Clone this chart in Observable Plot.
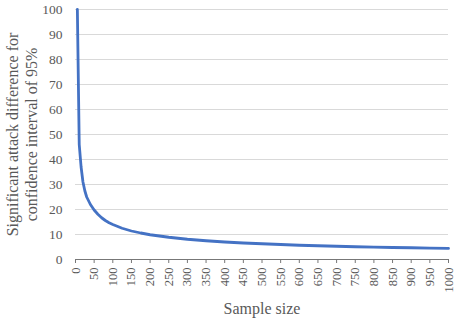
<!DOCTYPE html>
<html>
<head>
<meta charset="utf-8">
<script src="https://cdn.jsdelivr.net/npm/d3@7"></script>
<script src="https://cdn.jsdelivr.net/npm/@observablehq/plot@0.6"></script>
<style>
  html, body { margin: 0; padding: 0; background: #fff; }
  #chart svg { display: block; }
</style>
</head>
<body>
<div id="chart"></div>
<script>
// Sample size (x) and significant attack difference (y)
const sampleSize = [5, 10, 15, 20, 25, 30, 40, 50, 60, 70, 80, 90, 100, 125, 150, 175, 200, 250, 300, 350, 400, 450, 500, 550, 600, 650, 700, 750, 800, 850, 900, 950, 1000];
const attackDiff = [100, 46, 37, 31, 27.5, 25, 22, 19.8, 18.1, 16.7, 15.6, 14.7, 14.0, 12.5, 11.4, 10.6, 9.9, 8.9, 8.1, 7.5, 7.0, 6.6, 6.3, 6.0, 5.7, 5.5, 5.3, 5.1, 4.95, 4.8, 4.7, 4.55, 4.43];
const xTicks = d3.range(0, 1001, 50);
const yTicks = d3.range(0, 101, 10);
const xTitle = "Sample size";
const yTitle = "Significant attack difference for\nconfidence interval of 95%";

const data = sampleSize.map((n, i) => ({n, v: attackDiff[i]}));
const gray = "#595959";
const serif = "'Liberation Serif', 'Times New Roman', Times, Tinos, 'DejaVu Serif', serif";

const chart = Plot.plot({
  width: 457,
  height: 323,
  marginLeft: 75,
  marginRight: 9,
  marginTop: 9,
  marginBottom: 64,
  style: {background: "#fff", color: gray, fontFamily: serif},
  x: {domain: [0, 1000]},
  y: {domain: [0, 100]},
  marks: [
    Plot.gridY(yTicks, {stroke: "#d9d9d9", strokeOpacity: 1, strokeWidth: 1}),
    Plot.axisY(yTicks, {tickSize: 0, tickPadding: 13, label: null, fill: gray, fontSize: 13.5, fontFamily: serif, tickFormat: d => String(d)}),
    Plot.ruleY([0], {stroke: "#777", strokeWidth: 1}),
    Plot.axisX(xTicks, {tickRotate: -90, tickSize: 4, tickPadding: 4, label: null, stroke: "#777", fill: gray, fontSize: 12.5, fontFamily: serif, tickFormat: d => String(d)}),
    Plot.line(data, {x: "n", y: "v", stroke: "#4472C4", strokeWidth: 2.8, curve: "linear"}),
    Plot.text([yTitle], {frameAnchor: "left", lineAnchor: "middle", rotate: -90, dx: -54.5, lineHeight: 1.2, fontSize: 16, fontFamily: serif, fill: gray, textAnchor: "middle"}),
    Plot.text([xTitle], {frameAnchor: "bottom", lineAnchor: "middle", dy: 49.6, fontSize: 16, fontFamily: serif, fill: gray, textAnchor: "middle"})
  ]
});
document.getElementById("chart").appendChild(chart);
</script>
</body>
</html>
